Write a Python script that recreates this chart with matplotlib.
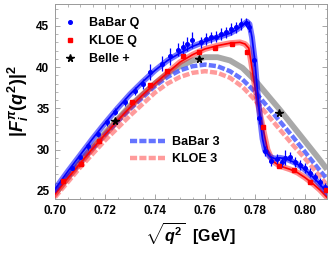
import numpy as np
import matplotlib.pyplot as plt
from matplotlib.ticker import MultipleLocator
from matplotlib.lines import Line2D

plt.rcParams['font.family'] = ['Liberation Sans', 'DejaVu Sans']
plt.rcParams['font.weight'] = 'bold'
plt.rcParams['axes.labelweight'] = 'bold'
plt.rcParams['mathtext.fontset'] = 'custom'
plt.rcParams['mathtext.rm'] = 'Liberation Sans:bold'
plt.rcParams['mathtext.it'] = 'Liberation Sans:italic:bold'
plt.rcParams['mathtext.bf'] = 'Liberation Sans:bold'

# courbes
x_bq = [0.700, 0.705, 0.710, 0.715, 0.720, 0.725, 0.730, 0.735, 0.740, 0.745,
        0.750, 0.755, 0.760, 0.765, 0.770, 0.773, 0.775, 0.7768, 0.7778, 0.7788,
        0.780, 0.781, 0.782, 0.783, 0.784, 0.786, 0.788, 0.790, 0.793, 0.796,
        0.799, 0.802, 0.805, 0.8088]
y_bq = [25.2, 27.3, 29.3, 31.3, 33.2, 35.0, 36.7, 38.2, 39.6, 40.8,
        41.7, 42.5, 43.1, 43.6, 44.1, 44.6, 45.1, 45.5, 45.2, 43.6,
        40.6, 37.0, 33.8, 31.3, 29.9, 29.1, 28.9, 29.0, 28.8, 28.4,
        27.8, 27.0, 26.1, 24.8]

x_kq = [0.700, 0.705, 0.710, 0.715, 0.720, 0.725, 0.730, 0.735, 0.740, 0.745,
        0.750, 0.755, 0.760, 0.765, 0.770, 0.774, 0.776, 0.7775, 0.7785, 0.7795,
        0.781, 0.7832, 0.785, 0.787, 0.790, 0.794, 0.797, 0.800, 0.803, 0.806, 0.8088]
y_kq = [24.6, 26.5, 28.3, 30.1, 31.8, 33.5, 35.1, 36.6, 38.0, 39.3,
        40.6, 41.5, 42.2, 42.6, 42.9, 43.0, 42.8, 42.3, 40.5, 38.5,
        35.8, 32.6, 30.0, 28.6, 28.0, 27.6, 27.2, 26.6, 25.9, 25.1, 24.2]

x_th = [0.700, 0.710, 0.720, 0.730, 0.740, 0.745, 0.750, 0.755, 0.760, 0.765,
        0.770, 0.775, 0.780, 0.785, 0.790, 0.795, 0.800, 0.805, 0.8088]
y_gray = [24.6, 28.5, 32.0, 35.3, 38.0, 39.2, 40.1, 40.8, 41.2, 41.2,
          40.8, 39.9, 38.4, 36.6, 34.8, 32.9, 31.0, 29.1, 27.6]
y_b3 = [24.8, 28.4, 31.8, 34.9, 37.7, 38.8, 39.6, 40.1, 40.3, 40.1,
        39.5, 38.5, 37.0, 35.2, 33.4, 31.6, 29.7, 27.8, 26.4]
y_k3 = [24.2, 27.8, 31.1, 34.1, 36.9, 38.0, 38.8, 39.3, 39.5, 39.3,
        38.7, 37.6, 36.0, 34.2, 32.4, 30.6, 28.9, 27.1, 25.7]

# points experimentaux
x_babar = [0.7027, 0.7067, 0.7100, 0.7133, 0.7170, 0.7207, 0.7240, 0.7280, 0.7320, 0.7350,
           0.7380, 0.7427, 0.7460, 0.7490, 0.7510, 0.7527, 0.7547, 0.7584, 0.7604, 0.7624,
           0.7644, 0.7664, 0.7684, 0.7704, 0.7724, 0.7744, 0.7764, 0.7776, 0.7796, 0.7816,
           0.7840, 0.7863, 0.7887, 0.7907, 0.7920, 0.7940, 0.7960, 0.7980, 0.8000, 0.8020,
           0.8040, 0.8060, 0.8080]
y_babar = [26.2, 27.8, 29.1, 30.4, 31.9, 33.3, 34.6, 35.8, 37.1, 38.0,
           39.4, 40.4, 41.3, 42.1, 42.4, 42.8, 43.3, 43.0, 43.4, 43.6,
           43.7, 44.0, 44.2, 44.6, 44.8, 45.2, 45.4, 44.9, 40.8, 33.8,
           29.8, 28.6, 28.8, 28.5, 29.0, 29.1, 28.5, 28.1, 27.8, 27.2,
           26.7, 26.1, 25.4]
e_babar = [0.3, 0.3, 0.3, 0.4, 0.4, 0.4, 0.4, 0.5, 0.5, 0.6,
           1.0, 0.9, 1.0, 0.8, 0.8, 0.9, 1.0, 0.7, 0.7, 0.7,
           0.7, 0.7, 0.7, 0.7, 0.7, 0.7, 0.6, 0.7, 0.7, 0.7,
           0.6, 0.6, 0.6, 0.6, 0.9, 0.6, 0.6, 0.6, 0.6, 0.5,
           0.5, 0.5, 0.5]

x_kloe = [0.7032, 0.7104, 0.7176, 0.7308, 0.7380, 0.7448, 0.7510, 0.7576, 0.7640, 0.7708,
          0.7768, 0.7832, 0.7896, 0.7956, 0.8020, 0.8084]
y_kloe = [26.2, 28.3, 31.0, 35.8, 37.8, 39.5, 41.4, 41.8, 42.3, 42.8,
          41.8, 32.7, 28.0, 27.5, 26.1, 25.1]

x_belle = [0.7240, 0.7576, 0.7896]
y_belle = [33.4, 41.0, 34.4]

fig = plt.figure(figsize=(3.32, 2.56), dpi=100)
ax = fig.add_axes([55/332, 1-199/256, 272/332, 195/256])

ax.plot(x_th, y_gray, color='#a8a8a8', lw=4.2, solid_capstyle='butt', zorder=2)
ax.plot(x_th, y_b3, color='#4a5cff', lw=3.2, alpha=0.85, dashes=(1.6, 0.5), zorder=3)
ax.plot(x_th, y_k3, color='#ff7a7a', lw=3.2, alpha=0.75, dashes=(1.6, 0.5), zorder=3)

ax.plot(x_kq, y_kq, color='red', lw=4.2, alpha=0.45, zorder=4)
ax.plot(x_kq, y_kq, color='red', lw=1.2, zorder=4)
ax.plot(x_bq, y_bq, color='blue', lw=4.2, alpha=0.55, zorder=5)
ax.plot(x_bq, y_bq, color='blue', lw=1.2, zorder=5)

ax.errorbar(x_babar, y_babar, yerr=e_babar, fmt='o', color='blue', ms=2.6,
            elinewidth=0.9, capsize=0, zorder=6)
ax.plot(x_kloe, y_kloe, 's', color='red', ms=3.2, zorder=7)
ax.plot(x_belle, y_belle, '*', color='black', ms=5.5, zorder=8)

ax.set_xlim(0.70, 0.8088)
ax.set_ylim(24.0, 47.65)
ax.xaxis.set_minor_locator(MultipleLocator(0.005))
ax.yaxis.set_major_locator(MultipleLocator(5))
ax.yaxis.set_minor_locator(MultipleLocator(1))
ax.set_xticks([0.70, 0.72, 0.74, 0.76, 0.78, 0.80])
ax.set_xticklabels(['0.70', '0.72', '0.74', '0.76', '0.78', '0.80'])
ax.tick_params(which='both', direction='in', top=True, right=True, color='#999999',
               labelsize=8.5, pad=4)
ax.tick_params(which='major', length=3.5, width=0.6)
ax.tick_params(which='minor', length=1.8, width=0.5)
for s in ax.spines.values():
    s.set_color('#999999')
    s.set_linewidth(0.7)

ax.set_xlabel(r'$\sqrt{q^2}$  [GeV]', fontsize=11.5, labelpad=3)
ax.set_ylabel(r'$|F_i^{\pi}(q^2)|^2$', fontsize=13, labelpad=4)

h1 = [Line2D([], [], ls='', marker='o', color='blue', ms=2.6),
      Line2D([], [], ls='', marker='s', color='red', ms=3.2),
      Line2D([], [], ls='', marker='*', color='black', ms=5.5)]
leg1 = ax.legend(h1, ['BaBar Q', 'KLOE Q', 'Belle +'], loc='upper left',
                 bbox_to_anchor=(64/332, 1-17/256), bbox_transform=fig.transFigure,
                 frameon=False, fontsize=9, handlelength=1.0, handletextpad=1.0,
                 labelspacing=0.5, borderpad=0, borderaxespad=0)
ax.add_artist(leg1)
h2 = [Line2D([], [], color='#4a5cff', lw=3.2, alpha=0.85, dashes=(1.6, 0.5)),
      Line2D([], [], color='#ff7a7a', lw=3.2, alpha=0.75, dashes=(1.6, 0.5))]
ax.legend(h2, ['BaBar 3', 'KLOE 3'], loc='upper left',
          bbox_to_anchor=(130/332, 1-136/256), bbox_transform=fig.transFigure,
          frameon=False, fontsize=9, handlelength=2.8, handletextpad=0.55,
          labelspacing=0.4, borderpad=0, borderaxespad=0)

fig.savefig('out.png', dpi=100)
